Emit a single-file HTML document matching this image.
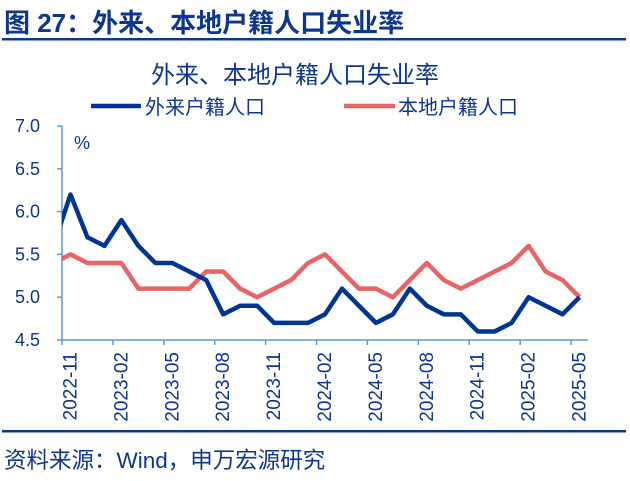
<!DOCTYPE html>
<html><head><meta charset="utf-8"><style>
body{margin:0;background:#fff;width:630px;height:481px;overflow:hidden;font-family:"Liberation Sans","Noto Sans CJK SC",sans-serif;}
</style></head><body>
<svg width="630" height="481" style="position:absolute;left:0;top:0">
<text x="4" y="32" font-size="26" font-weight="bold" fill="#0d3690" font-family="Liberation Sans,Noto Sans CJK SC,sans-serif">图 27：外来、本地户籍人口失业率</text>
<rect x="2" y="38" width="624" height="2.5" fill="#0d3690"/>
<text x="295" y="83" font-size="24" fill="#0d3690" text-anchor="middle">外来、本地户籍人口失业率</text>
<g>
<line x1="91" y1="106" x2="141" y2="106" stroke="#003594" stroke-width="4.5"/>
<text x="145" y="114" font-size="20" fill="#0d3690">外来户籍人口</text>
<line x1="344" y1="106" x2="395" y2="106" stroke="#e86565" stroke-width="4.5"/>
<text x="398" y="114" font-size="20" fill="#0d3690">本地户籍人口</text>
</g>
<text x="74" y="149" font-size="18" fill="#0d3690">%</text>
<g id="axes"></g>
<g id="plot"></g>
<rect x="2" y="430" width="624" height="2.5" fill="#0d3690"/>
<text x="4" y="468" font-size="22.5" fill="#0d3690">资料来源：Wind，申万宏源研究</text>
</svg>
<script>
const categories=["2022-11","2022-12","2023-01","2023-02","2023-03","2023-04","2023-05","2023-06","2023-07","2023-08","2023-09","2023-10","2023-11","2023-12","2024-01","2024-02","2024-03","2024-04","2024-05","2024-06","2024-07","2024-08","2024-09","2024-10","2024-11","2024-12","2025-01","2025-02","2025-03","2025-04","2025-05"];
const nonlocalPrev=5.6;
const localPrev=5.4;
const nonlocal=[6.2,5.7,5.6,5.9,5.6,5.4,5.4,5.3,5.2,4.8,4.9,4.9,4.7,4.7,4.7,4.8,5.1,4.9,4.7,4.8,5.1,4.9,4.8,4.8,4.6,4.6,4.7,5.0,4.9,4.8,5.0];
const local=[5.5,5.4,5.4,5.4,5.1,5.1,5.1,5.1,5.3,5.3,5.1,5.0,5.1,5.2,5.4,5.5,5.3,5.1,5.1,5.0,5.2,5.4,5.2,5.1,5.2,5.3,5.4,5.6,5.3,5.2,5.0];
const yTicks=[4.5,5.0,5.5,6.0,6.5,7.0];
const yTickLabels=["4.5","5.0","5.5","6.0","6.5","7.0"];
const NS="http://www.w3.org/2000/svg";
const X0=62,X1=588,Y0=340,Y1=126,YMIN=4.5,YMAX=7.0;
const step=(X1-X0)/categories.length;
function xs(i){return X0+step*(i+0.5);}
function ys(v){return Y0-(v-YMIN)/(YMAX-YMIN)*(Y0-Y1);}
function mk(t,a,p){const e=document.createElementNS(NS,t);for(const k in a)e.setAttribute(k,a[k]);p.appendChild(e);return e;}
const axes=document.getElementById('axes'),plot=document.getElementById('plot');
const ax=mk('line',{x1:X0,y1:Y1,x2:X0,y2:Y0,stroke:'#5b9bd5','stroke-width':1.5},axes);


const bx=mk('line',{x1:X0,y1:Y0,x2:X1,y2:Y0,stroke:'#5b9bd5','stroke-width':1.5},axes);


yTicks.forEach((v,i)=>{
 const y=ys(v);
 const tk=mk('line',{x1:X0-5,y1:y,x2:X0,y2:y,stroke:'#5b9bd5','stroke-width':1.5},axes);
 
 
 const t=mk('text',{x:X0-22,y:y+6,'font-size':18,fill:'#0d3690','text-anchor':'end'},axes);
 t.textContent=yTickLabels[i];
 
 
});
for(let i=0;i<=categories.length;i+=3){
 const x=X0+step*i;
 const tk=mk('line',{x1:x,y1:Y0,x2:x,y2:Y0+5,stroke:'#5b9bd5','stroke-width':1.5},axes);
 
 
}
for(let i=0;i<categories.length;i+=3){
 const x=xs(i)+6;
 const t=mk('text',{x:0,y:0,'font-size':19,fill:'#0d3690','text-anchor':'end',transform:`translate(${x},352) rotate(-90)`},axes);
 t.textContent=categories[i];
 
 
}
mk('clipPath',{id:'cp'},plot);
mk('rect',{x:X0,y:0,width:X1-X0,height:481},plot.lastChild);
function series(vals,prev,color,name){
 let d=`M${xs(-1)},${ys(prev)}`;
 vals.forEach((v,i)=>{d+=`L${xs(i)},${ys(v)}`;});
 const p=mk('path',{d:d,fill:'none',stroke:color,'stroke-width':4.5,'stroke-linejoin':'round','clip-path':'url(#cp)'},plot);
 
 
}
series(local,localPrev,'#e86565','line-local');
series(nonlocal,nonlocalPrev,'#003594','line-nonlocal');
</script>
</body></html>
